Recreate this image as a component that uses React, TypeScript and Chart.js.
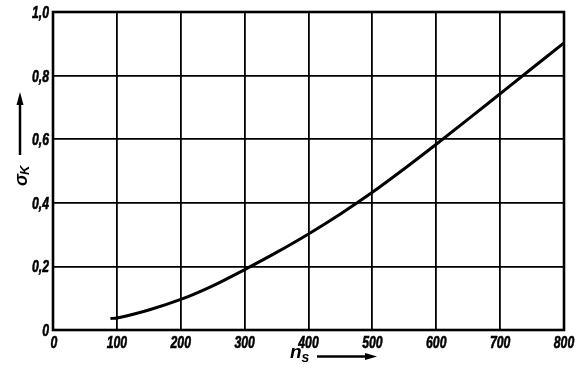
import React, { useEffect, useRef } from "react";
import { Chart, registerables } from "chart.js";

Chart.register(...registerables);

const nsValues = [90, 100, 150, 200, 250, 300, 350, 400, 450, 500, 550, 600, 650, 700, 750, 800];
const sigmaValues = [0.036, 0.038, 0.063, 0.096, 0.139, 0.19, 0.244, 0.302, 0.365, 0.433, 0.507, 0.584, 0.663, 0.743, 0.823, 0.903];
const xTicks = [0, 100, 200, 300, 400, 500, 600, 700, 800];
const yTicks = [0, 0.2, 0.4, 0.6, 0.8, 1.0];
const xTitle = "n";
const xTitleSub = "s";
const yTitle = "σ";
const yTitleSub = "K";

const FONT_FAMILY = "'Liberation Sans', Arial, sans-serif";
const SQUEEZE = 0.72;

function fmtY(v: number) {
  return v === 0 ? "0" : v.toFixed(1).replace(".", ",");
}

function squeezedText(ctx: any, text: string, x: number, y: number, align: "left" | "center" | "right") {
  const w = ctx.measureText(text).width * SQUEEZE;
  let sx = x;
  if (align === "center") sx = x - w / 2;
  else if (align === "right") sx = x - w;
  ctx.save();
  ctx.translate(sx, y);
  ctx.scale(SQUEEZE, 1);
  ctx.textAlign = "left";
  ctx.fillText(text, 0, 0);
  ctx.lineWidth = 0.6;
  ctx.strokeText(text, 0, 0);
  ctx.restore();
}

const labelsPlugin = {
  id: "tickLabelsTitles",
  afterDraw(chart: any) {
    const { ctx, chartArea, scales } = chart;
    ctx.save();
    ctx.fillStyle = "#000";
    ctx.strokeStyle = "#000";
    ctx.textBaseline = "alphabetic";
    ctx.font = `italic bold 17px ${FONT_FAMILY}`;
    // x tick labels
    for (const v of xTicks) {
      const px = scales.x.getPixelForValue(v);
      squeezedText(ctx, String(v), px + (v === 0 ? 1 : 0), chartArea.bottom + 18, "center");
    }
    // y tick labels
    for (const v of yTicks) {
      const py = scales.y.getPixelForValue(v);
      squeezedText(ctx, fmtY(v), chartArea.left - 4, py + 6, "right");
    }

    // X title
    const tx = 290;
    const ty = 358;
    ctx.font = `italic bold 19px ${FONT_FAMILY}`;
    ctx.textAlign = "left";
    ctx.fillText(xTitle, tx, ty);
    const nw = ctx.measureText(xTitle).width;
    ctx.font = `italic bold 14px ${FONT_FAMILY}`;
    ctx.fillText(xTitleSub, tx + nw, ty + 4);
    // x arrow
    const ax0 = 317;
    const ax1 = 377;
    const ay = 356.5;
    ctx.lineWidth = 2.5;
    ctx.beginPath();
    ctx.moveTo(ax0, ay);
    ctx.lineTo(ax1 - 8, ay);
    ctx.stroke();
    ctx.beginPath();
    ctx.moveTo(ax1, ay);
    ctx.lineTo(ax1 - 12, ay - 3.5);
    ctx.lineTo(ax1 - 12, ay + 3.5);
    ctx.closePath();
    ctx.fill();

    // Y title (rotated)
    const yx = 21;
    ctx.save();
    ctx.translate(yx, 186);
    ctx.rotate(-Math.PI / 2);
    ctx.font = `italic bold 18px ${FONT_FAMILY}`;
    ctx.textAlign = "left";
    ctx.fillText(yTitle, 0, 6);
    const sw = ctx.measureText(yTitle).width;
    ctx.font = `italic bold 13px ${FONT_FAMILY}`;
    ctx.fillText(yTitleSub, sw - 1, 8);
    ctx.restore();
    // y arrow
    ctx.lineWidth = 2.5;
    ctx.beginPath();
    ctx.moveTo(20, 155);
    ctx.lineTo(20, 103);
    ctx.stroke();
    ctx.beginPath();
    ctx.moveTo(20, 92);
    ctx.lineTo(16.5, 105);
    ctx.lineTo(23.5, 105);
    ctx.closePath();
    ctx.fill();
    ctx.restore();
  },
};

const borderPlugin = {
  id: "plotBorder",
  afterDatasetsDraw(chart: any) {
    const { ctx, chartArea } = chart;
    ctx.save();
    ctx.strokeStyle = "#000";
    ctx.lineWidth = 2.6;
    ctx.strokeRect(chartArea.left, chartArea.top, chartArea.right - chartArea.left, chartArea.bottom - chartArea.top);
    ctx.restore();
  },
};

export default function App() {
  const canvasRef = useRef<HTMLCanvasElement | null>(null);

  useEffect(() => {
    const canvas = canvasRef.current;
    if (!canvas) return;
    const chart = new Chart(canvas, {
      type: "line",
      data: {
        datasets: [
          {
            data: nsValues.map((x, i) => ({ x, y: sigmaValues[i] })),
            borderColor: "#000",
            borderWidth: 3,
            pointRadius: 0,
            fill: false,
            cubicInterpolationMode: "monotone",
          },
        ],
      },
      options: {
        animation: false,
        responsive: false,
        maintainAspectRatio: false,
        layout: { padding: { top: 12, right: 22, left: 0, bottom: 0 } },
        plugins: { legend: { display: false }, tooltip: { enabled: false } },
        scales: {
          x: {
            type: "linear",
            min: 0,
            max: 800,
            afterBuildTicks: (scale: any) => {
              scale.ticks = xTicks.map((v) => ({ value: v }));
            },
            afterFit: (scale: any) => {
              scale.height = 41;
            },
            grid: { color: "#000", lineWidth: 1.8, drawTicks: false },
            border: { display: false },
            ticks: { display: false },
          },
          y: {
            type: "linear",
            min: 0,
            max: 1,
            afterBuildTicks: (scale: any) => {
              scale.ticks = yTicks.map((v) => ({ value: v }));
            },
            afterFit: (scale: any) => {
              scale.width = 53;
            },
            grid: { color: "#000", lineWidth: 1.8, drawTicks: false },
            border: { display: false },
            ticks: { display: false },
          },
        },
      },
      plugins: [borderPlugin, labelsPlugin],
    } as any);
    return () => chart.destroy();
  }, []);

  return (
    <div style={{ position: "fixed", left: 0, top: 0, width: 586, height: 371, background: "#fff" }}>
      <canvas ref={canvasRef} width={586} height={371} style={{ width: 586, height: 371, display: "block" }} />
    </div>
  );
}
